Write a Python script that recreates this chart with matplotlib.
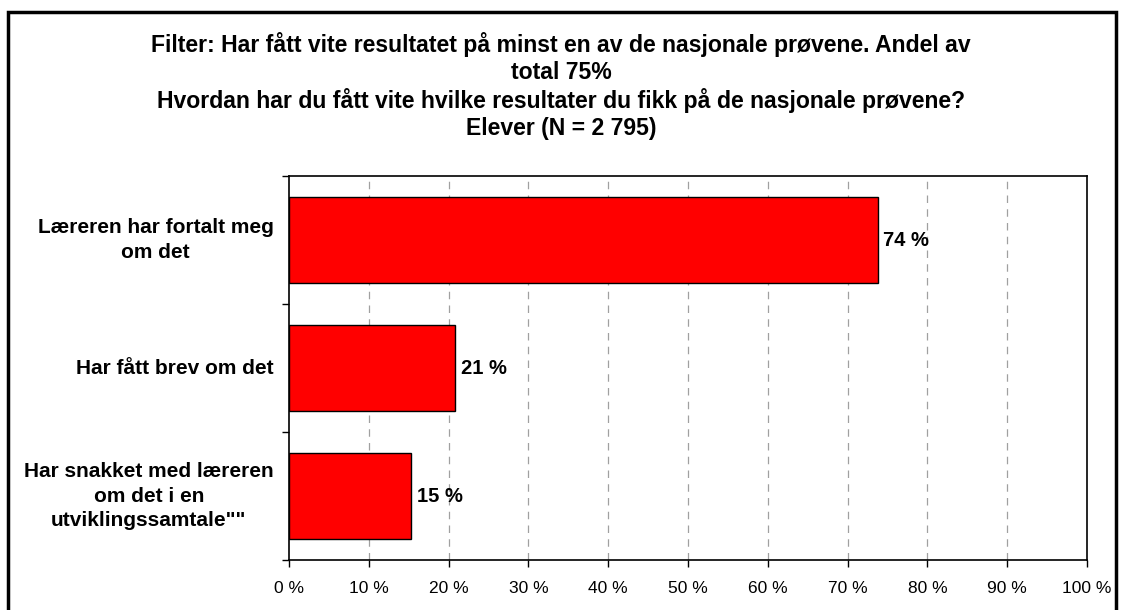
import matplotlib
matplotlib.use("Agg")
import matplotlib.pyplot as plt
from matplotlib.patches import Rectangle

categories = ["Læreren har fortalt meg\nom det",
              "Har fått brev om det",
              "Har snakket med læreren\nom det i en\nutviklingssamtale\"\""]
values = [73.8, 20.8, 15.3]
value_labels = ["74 %", "21 %", "15 %"]
xticks = [0, 10, 20, 30, 40, 50, 60, 70, 80, 90, 100]
xtick_labels = [f"{t} %" for t in xticks]
title = ("Filter: Har fått vite resultatet på minst en av de nasjonale prøvene. Andel av\n"
         "total 75%\n"
         "Hvordan har du fått vite hvilke resultater du fikk på de nasjonale prøvene?\n"
         "Elever (N = 2 795)")

plt.rcParams['font.family'] = ['Liberation Sans', 'DejaVu Sans']

W, H = 1122, 610
fig = plt.figure(figsize=(W / 100, H / 100), dpi=100)
fig.patch.set_facecolor('white')

# figure border
fig.patches.append(Rectangle((8 / W, -0.01), (1116 - 8) / W, 1 - 12 / H + 0.01,
                             transform=fig.transFigure, fill=False,
                             edgecolor='black', linewidth=2.5))

L, R, T, B = 289, 1087, 176, 560
ax = fig.add_axes([L / W, 1 - B / H, (R - L) / W, (B - T) / H])

ypos = list(range(len(categories)))
ax.barh(ypos, values, height=0.67, color='#ff0000', edgecolor='black',
        linewidth=1.0, zorder=3)
ax.set_ylim(len(categories) - 0.5, -0.5)
ax.set_xlim(0, 100)

ax.set_xticks(xticks)
ax.set_xticklabels(xtick_labels, fontsize=12.5)
ax.set_yticks([i - 0.5 for i in range(len(categories) + 1)])
ax.set_yticklabels([])
ax.tick_params(axis='both', direction='out', length=5, width=1, color='black')
ax.tick_params(axis='x', pad=10)

for x in xticks[1:-1]:
    ax.axvline(x, color='#a0a0a0', linestyle=(0, (6, 5)), linewidth=0.9, zorder=1)

for s in ax.spines.values():
    s.set_linewidth(1.2)
    s.set_color('black')

for i, (v, lab) in enumerate(zip(values, value_labels)):
    ax.annotate(lab, (v, i), xytext=(4, 0), textcoords='offset points',
                ha='left', va='center', fontsize=14.5, fontweight='bold')

for i, c in enumerate(categories):
    ax.annotate(c, (0, i), xytext=(-11, 0), textcoords='offset points',
                xycoords=('axes fraction', 'data'),
                ha='right', va='center', multialignment='center',
                fontsize=15, fontweight='bold', linespacing=1.35)

fig.text(0.5, 1 - 86 / H, title, ha='center', va='center', fontsize=16.6,
         fontweight='bold', linespacing=1.2)

fig.savefig("out.png", dpi=100)
